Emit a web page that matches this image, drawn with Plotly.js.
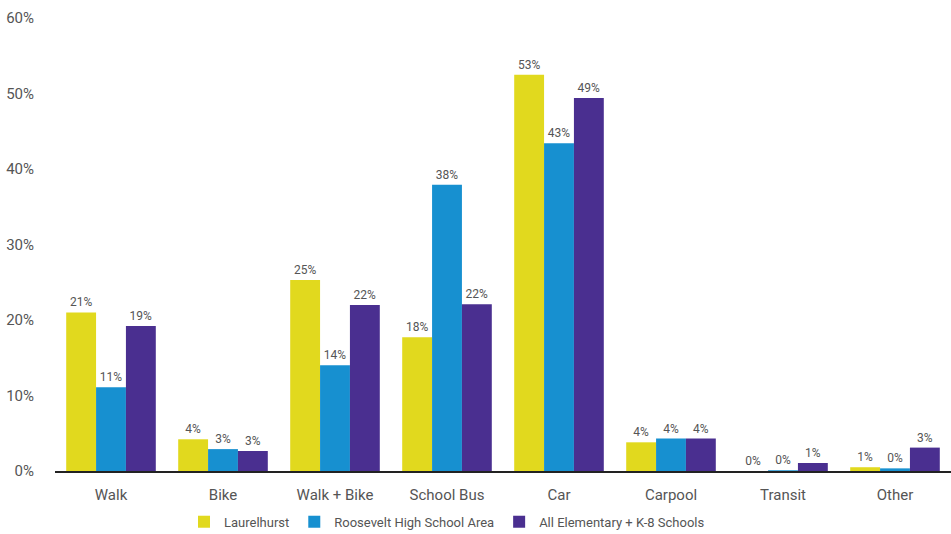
<!DOCTYPE html>
<html><head><meta charset="utf-8">
<script src="https://cdn.plot.ly/plotly-3.0.1.min.js"></script>
<style>html,body{margin:0;padding:0;background:#fff}#chart{width:951px;height:534px}</style>
</head><body><div id="chart"></div>
<script>
const categories = ["Walk","Bike","Walk + Bike","School Bus","Car","Carpool","Transit","Other"];
const laurelhurst = [21.0, 4.2, 25.3, 17.7, 52.5, 3.8, 0, 0.5];
const roosevelt = [11.1, 2.9, 14.0, 37.9, 43.4, 4.3, 0.1, 0.35];
const allSchools = [19.2, 2.65, 22.0, 22.1, 49.4, 4.3, 1.06, 3.1];
const seriesNames = ["Laurelhurst","Roosevelt High School Area","All Elementary + K-8 Schools"];
const colors = ["#e1d91e","#1790d0","#4a2f90"];
const yTicks = [0,10,20,30,40,50,60];

const font = "Roboto, 'DejaVu Sans', sans-serif";
const traces = [laurelhurst, roosevelt, allSchools].map((vals,i)=>({
  type:"bar", x:categories, y:vals, name:seriesNames[i],
  marker:{color:colors[i]},
  texttemplate:"%{y:.0f}%", textposition:"outside", cliponaxis:false,
  textfont:{family:font,size:12,color:"#555"},
  hoverinfo:"skip"
}));
Plotly.newPlot("chart", traces, {
  width:951, height:534,
  margin:{l:55,r:0,t:18,b:63,autoexpand:false},
  barmode:"group", bargap:0.2, bargroupgap:0,
  paper_bgcolor:"#fff", plot_bgcolor:"#fff",
  font:{family:font,color:"#555"},
  xaxis:{tickfont:{size:15,color:"#555"}, showline:true, linecolor:"#222", linewidth:1.5, ticks:"", showgrid:false,
         ticklabelstandoff:9, automargin:false},
  yaxis:{range:[0,60], tickvals:yTicks, ticktext:yTicks.map(v=>v+"%"), showgrid:false, zeroline:false,
         showline:false, tickfont:{size:15,color:"#555"}, ticks:"outside", ticklen:17, tickcolor:"rgba(0,0,0,0)", automargin:false},
  legend:{orientation:"h", x:0.4375, xanchor:"center", y:-0.079, yanchor:"top",
          font:{size:13,color:"#555"}, itemwidth:30, traceorder:"normal"},
  showlegend:true
}, {displayModeBar:false, staticPlot:true});
</script></body></html>
